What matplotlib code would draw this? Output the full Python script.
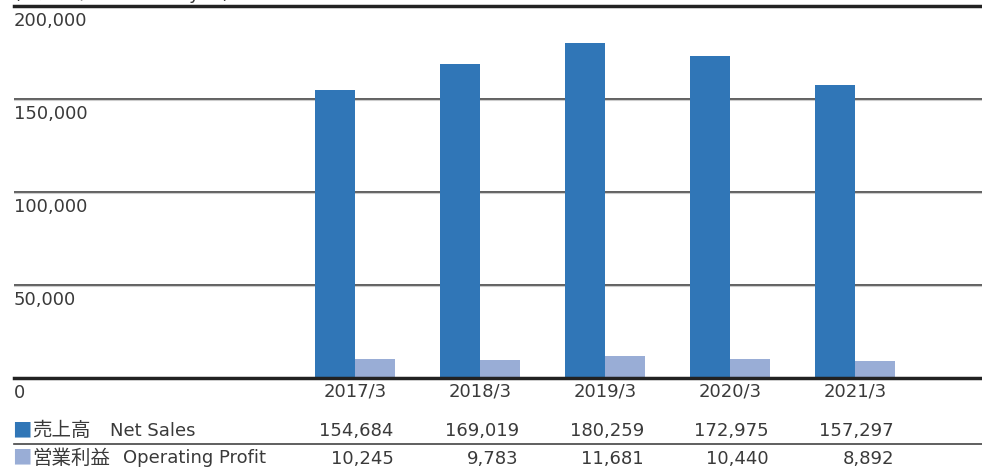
import numpy as np
import matplotlib.pyplot as plt
from matplotlib.transforms import blended_transform_factory

plt.rcParams['font.family'] = ['DejaVu Sans', 'Noto Sans CJK JP']

years = ['2017/3', '2018/3', '2019/3', '2020/3', '2021/3']
net_sales = [154684, 169019, 180259, 172975, 157297]
op_profit = [10245, 9783, 11681, 10440, 8892]
yticks = [0, 50000, 100000, 150000, 200000]

dark = '#3076b7'
light = '#99add6'
txt = '#3a3a3a'
fs = 13
jp = 'Noto Sans CJK JP'

W, H = 982, 468
fig = plt.figure(figsize=(W / 100, H / 100), dpi=100)
ax = fig.add_axes([14 / W, 1 - 378 / H, 968 / W, 372 / H])

x = np.arange(len(years))
bw = 0.32
ax.bar(x - bw / 2, net_sales, bw, color=dark, zorder=3)
ax.bar(x + bw / 2, op_profit, bw, color=light, zorder=3)

ax.set_xlim(-341 / 125, -341 / 125 + 968 / 125)
ax.set_ylim(0, 200000)
ax.axis('off')

# grid lines
for v in yticks[1:-1]:
    ax.axhline(v, color='#444444', lw=1.2, zorder=1)
    ax.axhline(v - 800, color='#cccccc', lw=0.8, zorder=1)
ax.axhline(200000, color='#222222', lw=2.5, zorder=4, clip_on=False)
ax.axhline(0, color='#222222', lw=2.5, zorder=4, clip_on=False)

# y labels under each line
ytr = blended_transform_factory(ax.transAxes, ax.transData)
for v in yticks:
    ax.text(0, v - 3300, '{:,}'.format(v), transform=ytr,
            ha='left', va='top', fontsize=fs, color=txt)

# unit label (cut off at the top, as in the source)
fig.text(14 / W, 1 + 1 / H, '(百万円 / Millions of yen)', ha='left', va='baseline',
         fontsize=fs, color=txt)

tr = blended_transform_factory(ax.transData, fig.transFigure)
for i, yr in enumerate(years):
    ax.text(x[i], 1 - 391 / H, yr, transform=tr, ha='center', va='center', fontsize=fs, color=txt)
    ax.text(x[i] + 0.31, 1 - 431 / H, '{:,}'.format(net_sales[i]), transform=tr,
            ha='right', va='center', fontsize=fs, color=txt)
    ax.text(x[i] + 0.31, 1 - 459 / H, '{:,}'.format(op_profit[i]), transform=tr,
            ha='right', va='center', fontsize=fs, color=txt)

fig.text(12 / W, 1 - 431 / H, '■', color=dark, ha='left', va='center', fontsize=14, family=jp)
fig.text(32 / W, 1 - 431 / H, '売上高', color=txt, ha='left', va='center', fontsize=14, family=jp)
fig.text(110 / W, 1 - 431 / H, 'Net Sales', color=txt, ha='left', va='center', fontsize=fs)
fig.text(12 / W, 1 - 458 / H, '■', color=light, ha='left', va='center', fontsize=14, family=jp)
fig.text(32 / W, 1 - 458 / H, '営業利益', color=txt, ha='left', va='center', fontsize=14, family=jp)
fig.text(123 / W, 1 - 458 / H, 'Operating Profit', color=txt, ha='left', va='center', fontsize=fs)

fig.add_artist(plt.Line2D([14 / W, 1], [1 - 444 / H] * 2, color='#444444', lw=1.2))

fig.savefig('out.png', dpi=100)
